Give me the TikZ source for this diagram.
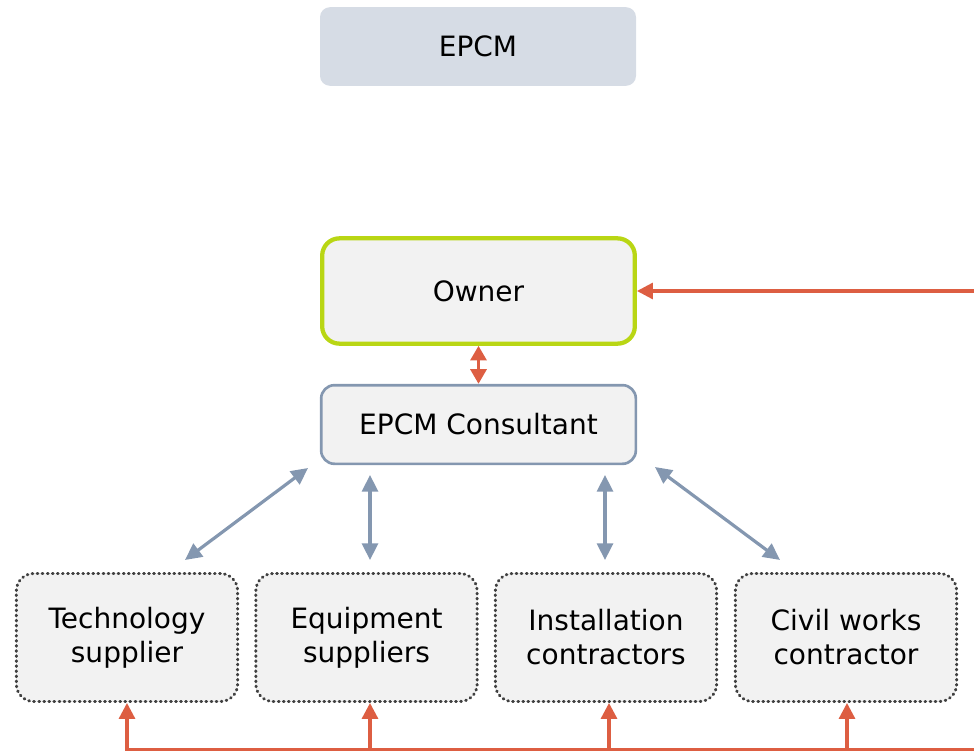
\documentclass[tikz,border=0pt]{standalone}
\usepackage{fontspec}
\setmainfont{DejaVu Sans}
\usepackage{tikz}
\usetikzlibrary{arrows.meta}
\usetikzlibrary{positioning}

\definecolor{epcmfill}{HTML}{D6DCE5}
\definecolor{boxfill}{HTML}{F2F2F2}
\definecolor{ownergreen}{RGB}{185,214,20}
\definecolor{consblue}{HTML}{8497B0}
\definecolor{linkred}{RGB}{221,94,66}
\definecolor{dotgray}{HTML}{404040}

\tikzset{
  lbl/.style={font=\fontsize{21}{25.5}\selectfont, align=center, text=black, inner sep=0pt},
  titlebox/.style={lbl, fill=epcmfill, rounded corners=7.5pt, minimum width=237pt, minimum height=59pt},
  ownerbox/.style={lbl, draw=ownergreen, line width=3.2pt, fill=boxfill, rounded corners=13pt, minimum width=234.5pt, minimum height=79pt},
  consbox/.style={lbl, draw=consblue, line width=2pt, fill=boxfill, rounded corners=10pt, minimum width=236pt, minimum height=59pt},
  partybox/.style={lbl, draw=dotgray, line width=2.2pt, line cap=round, dash pattern=on 0.6pt off 3.2pt, fill=boxfill, rounded corners=13pt, minimum width=166pt, minimum height=96pt},
  redlink/.style={draw=linkred, line width=2.4pt, -{Triangle[length=12pt,width=12pt]}},
  bluelink/.style={draw=consblue, line width=2.4pt, {Triangle[length=12.5pt,width=12pt]}-{Triangle[length=12.5pt,width=12pt]}}
}

\begin{document}
\begin{tikzpicture}[x=0.75pt, y=-0.75pt]
\useasboundingbox (0,0) rectangle (974,752);

% boxes
\node[titlebox] (epcm) at (478,46.5) {EPCM};
\node[ownerbox] (owner) at (478.5,291) {Owner};
\node[consbox] (cons) at (478.5,424.5) {EPCM Consultant};

\node[partybox] (tech) at (127,637.5) {Technology\\supplier};
\node[partybox] (equip) at (366.5,637.5) {Equipment\\suppliers};
\node[partybox] (inst) at (606,637.5) {Installation\\contractors};
\node[partybox] (civil) at (846,637.5) {Civil works\\contractor};

% free ends
\coordinate (outside) at (974,291);
\coordinate (bus) at (974,749.5);
\coordinate (bus1) at (127,749.5);
\coordinate (bus2) at (370,749.5);
\coordinate (bus3) at (609,749.5);
\coordinate (bus4) at (847,749.5);

\coordinate (ta) at (308,468); \coordinate (tb) at (185,560);
\coordinate (ea) at (370,475); \coordinate (eb) at (370,560);
\coordinate (ia) at (605,475); \coordinate (ib) at (605,560);
\coordinate (ca) at (655,467); \coordinate (cb) at (780,560);

% red links
\draw[redlink, {Triangle[length=11pt,width=12pt]}-{Triangle[length=11pt,width=12pt]}] (owner) -- (cons);
\draw[redlink] (outside) -- (owner.east);
\draw[redlink] (bus) -- (bus1) -- (tech.south);
\draw[redlink] (bus2) -- (bus2 |- equip.south);
\draw[redlink] (bus3) -- (bus3 |- inst.south);
\draw[redlink] (bus4) -- (bus4 |- civil.south);

% blue links
\draw[bluelink] (ta) -- (tb);
\draw[bluelink] (ea) -- (eb);
\draw[bluelink] (ia) -- (ib);
\draw[bluelink] (ca) -- (cb);
\end{tikzpicture}
\end{document}
